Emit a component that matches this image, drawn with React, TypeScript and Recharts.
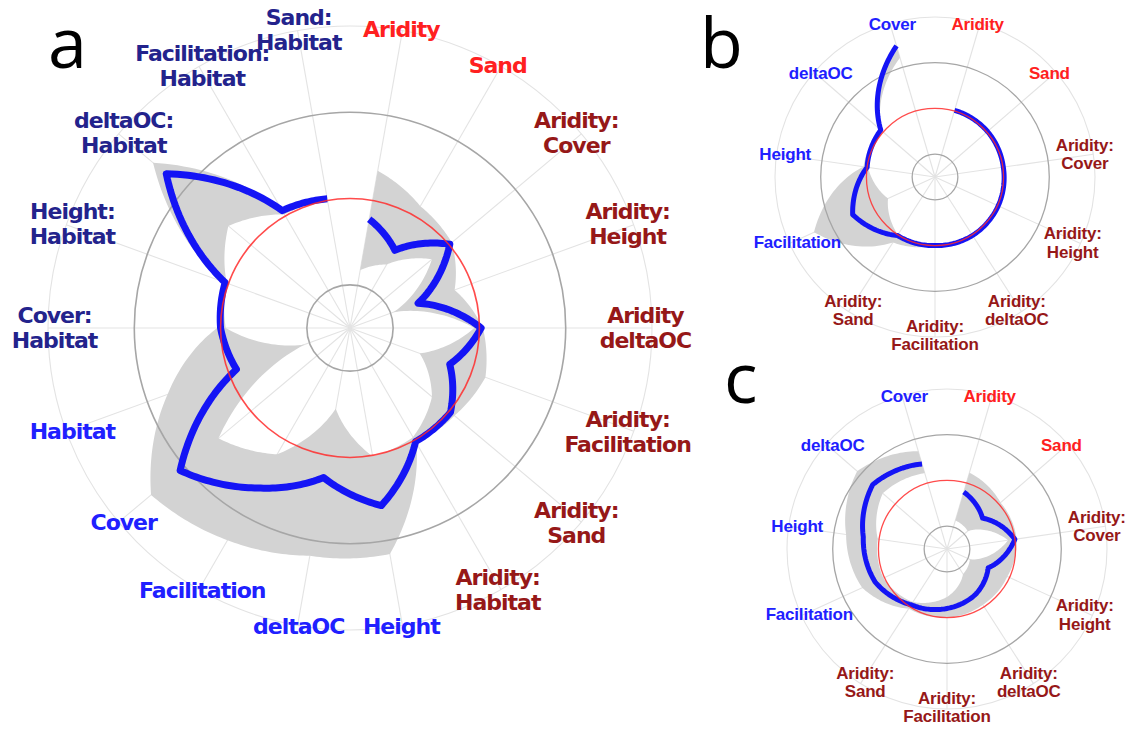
import React from "react";
import { RadarChart, Radar, PolarGrid, PolarAngleAxis, PolarRadiusAxis } from "recharts";

// radial scale shared by the three panels: 0 = red reference circle, -1 / 1 = grey rings
const DOMAIN: [number, number] = [-1.5, 1.9];
const REF_LEVEL = 0;
const GRID_LEVELS = [-1, 1];

// panel a
const aCategories = [
  "Aridity", "Sand", "Aridity:\nCover", "Aridity:\nHeight", "Aridity\ndeltaOC", "Aridity:\nFacilitation",
  "Aridity:\nSand", "Aridity:\nHabitat", "Height", "deltaOC", "Facilitation", "Cover", "Habitat",
  "Cover:\nHabitat", "Height:\nHabitat", "deltaOC:\nHabitat", "Facilitation:\nHabitat", "Sand:\nHabitat"
];
const aGroups = [
  "main", "main", "arid", "arid", "arid", "arid", "arid", "arid", "plant", "plant", "plant", "plant", "plant",
  "hab", "hab", "hab", "hab", "hab"
];
const aEstimate = [-0.22, -0.46, 0.01, -0.66, 0.02, -0.27, 0.02, 0.02, 0.59, 0.26, 0.64, 1.07, -0.1, 0.0, 0.04, 1.28, 0.07, 0.02];
const aLower = [-0.82, -0.65, -0.26, -0.96, -0.06, -0.64, -0.26, -0.04, 0.01, -0.55, 0.19, 0.49, -0.94, -0.06, 0.02, 0.34, 0.02, 0.0];
const aUpper = [0.35, 0.13, 0.04, -0.21, 0.04, 0.17, 0.08, 0.04, 1.16, 1.18, 1.34, 1.51, 0.75, 0.04, 0.06, 1.48, 0.08, 0.03];

// panels b and c share the categories
const bcCategories = [
  "Aridity", "Sand", "Aridity:\nCover", "Aridity:\nHeight", "Aridity:\ndeltaOC", "Aridity:\nFacilitation",
  "Aridity:\nSand", "Facilitation", "Height", "deltaOC", "Cover"
];
const bcGroups = ["main", "main", "arid", "arid", "arid", "arid", "arid", "plant", "plant", "plant", "plant"];

const bEstimate = [0.02, 0.02, 0.01, 0.02, 0.02, 0.0, 0.02, 0.48, 0.0, 0.07, 1.49];
const bLower = [0.02, 0.02, 0.01, 0.02, 0.02, 0.0, 0.0, -0.37, -0.02, 0.05, 1.22];
const bUpper = [0.02, 0.02, 0.01, 0.02, 0.02, 0.0, 0.2, 1.41, 0.08, 0.08, 1.52];

const cEstimate = [-0.2, -0.47, 0.0, -0.51, -0.33, -0.2, -0.05, 0.23, 0.35, 0.65, 0.44];
const cLower = [-0.85, -0.9, -0.15, -0.95, -0.85, -0.45, -0.12, 0.03, 0.03, 0.36, 0.23];
const cUpper = [0.24, 0.05, 0.04, -0.05, -0.05, 0.0, 0.05, 0.54, 0.73, 1.1, 0.73];

const groupColors: Record<string, string> = {
  main: "#ff2020",
  arid: "#961818",
  plant: "#2020ff",
  hab: "#23238c"
};

const RAD = Math.PI / 180;
const STEPS = 24;

type PolarPt = { angle: number; radius: number };

function polar(cx: number, cy: number, r: number, angle: number): [number, number] {
  return [cx + r * Math.cos(-angle * RAD), cy + r * Math.sin(-angle * RAD)];
}

// radius interpolated linearly with angle between spokes (as the original plots do)
function trace(pts: PolarPt[], cx: number, cy: number): [number, number][] {
  const out: [number, number][] = [];
  for (let i = 0; i < pts.length - 1; i++) {
    const a = pts[i];
    const b = pts[i + 1];
    for (let k = 0; k < STEPS; k++) {
      const t = k / STEPS;
      out.push(polar(cx, cy, a.radius + (b.radius - a.radius) * t, a.angle + (b.angle - a.angle) * t));
    }
  }
  const last = pts[pts.length - 1];
  out.push(polar(cx, cy, last.radius, last.angle));
  return out;
}

const toD = (xy: [number, number][]) => xy.map(([x, y], i) => `${i ? "L" : "M"}${x.toFixed(2)},${y.toFixed(2)}`).join("");

type Panel = {
  categories: string[];
  groups: string[];
  estimate: number[];
  lower: number[];
  upper: number[];
  left: number;
  top: number;
  width: number;
  height: number;
  cx: number;
  cy: number;
  outer: number;
  lineWidth: number;
  ringWidth: number;
  labelX: number;
  labelY: number;
  font: { family: string; size: number; spacing: number; lineGap: number };
};

function RadarPanel({ p }: { p: Panel }) {
  const n = p.categories.length;
  const start = 90 - 180 / n;
  const rows = p.categories.map((name, i) => ({
    name,
    est: p.estimate[i],
    band: [p.lower[i], p.upper[i]]
  }));
  const colorOf: Record<string, string> = {};
  p.categories.forEach((c, i) => (colorOf[c] = groupColors[p.groups[i]]));
  const scaleR = (v: number) => ((v - DOMAIN[0]) / (DOMAIN[1] - DOMAIN[0])) * p.outer;

  const bandShape = (props: any) => {
    const pts = props.points as any[];
    if (!pts || !pts.length) return <g />;
    const { cx, cy } = pts[0];
    const base: any[] = props.baseLinePoints && props.baseLinePoints.length ? props.baseLinePoints : null;
    const up = pts.map((q) => ({ angle: q.angle, radius: q.radius }));
    const lo = pts.map((q, i) => ({
      angle: q.angle,
      radius: base ? Math.hypot(base[i].x - cx, base[i].y - cy) : scaleR(q.value[0])
    }));
    const d = toD(trace(up, cx, cy)) + toD(trace(lo.slice().reverse(), cx, cy)).replace(/^M/, "L") + "Z";
    return <path d={d} fill="#d3d3d3" stroke="none" />;
  };

  const lineShape = (props: any) => {
    const pts = props.points as any[];
    if (!pts || !pts.length) return <g />;
    const { cx, cy } = pts[0];
    return (
      <path
        d={toD(trace(pts.map((q) => ({ angle: q.angle, radius: q.radius })), cx, cy))}
        fill="none"
        stroke="#1414f5"
        strokeWidth={p.lineWidth}
        strokeLinejoin="round"
        strokeLinecap="butt"
      />
    );
  };

  const ringShape = (stroke: string, width: number, opacity = 1) => (props: any) => {
    const q = props.points && props.points[0];
    if (!q) return <g />;
    return <circle cx={q.cx} cy={q.cy} r={q.radius} fill="none" stroke={stroke} strokeWidth={width} strokeOpacity={opacity} />;
  };

  const tick = (props: any) => {
    const { payload } = props;
    // labels sit on a slightly flattened ring, like the original
    const x = p.cx + (props.x - p.cx) * p.labelX;
    const y = p.cy + (props.y - p.cy) * p.labelY;
    const label = String(payload.value);
    const lines = label.split("\n");
    const off = -((lines.length - 1) * p.font.lineGap) / 2;
    return (
      <text
        x={x}
        y={y}
        textAnchor="middle"
        fill={colorOf[label] || "#000"}
        fontFamily={p.font.family}
        fontWeight="bold"
        fontSize={p.font.size}
        letterSpacing={p.font.spacing}
      >
        {lines.map((ln, i) => (
          <tspan key={i} x={x} y={y + off + i * p.font.lineGap} dominantBaseline="central">
            {ln}
          </tspan>
        ))}
      </text>
    );
  };

  return (
    <div style={{ position: "absolute", left: p.left, top: p.top }}>
      <RadarChart
        width={p.width}
        height={p.height}
        data={rows}
        cx={p.cx}
        cy={p.cy}
        outerRadius={p.outer}
        innerRadius={0}
        startAngle={start}
        endAngle={start - 360}
        margin={{ top: 0, right: 0, bottom: 0, left: 0 }}
      >
        <PolarGrid gridType="circle" polarRadius={[p.outer]} stroke="#e3e3e3" strokeWidth={1.1} />
        <PolarRadiusAxis type="number" domain={DOMAIN} allowDataOverflow tick={false} axisLine={false} />
        <PolarAngleAxis dataKey="name" tick={tick} tickLine={false} axisLine={false} tickSize={1} />
        <Radar dataKey="band" shape={bandShape} isAnimationActive={false} />
        {GRID_LEVELS.map((lv) => (
          <Radar key={lv} dataKey={() => lv} shape={ringShape("#a6a6a6", p.ringWidth)} isAnimationActive={false} />
        ))}
        <Radar dataKey="est" shape={lineShape} isAnimationActive={false} />
        <Radar dataKey={() => REF_LEVEL} shape={ringShape("#ff2b2b", p.ringWidth, 0.85)} isAnimationActive={false} />
      </RadarChart>
    </div>
  );
}

const panelA: Panel = {
  categories: aCategories, groups: aGroups, estimate: aEstimate, lower: aLower, upper: aUpper,
  left: 0, top: 0, width: 700, height: 730, cx: 350, cy: 328, outer: 302, lineWidth: 7, ringWidth: 1.6,
  labelX: 0.975, labelY: 1.0,
  font: { family: "'DejaVu Sans', Verdana, sans-serif", size: 22, spacing: -1, lineGap: 25 }
};
const panelB: Panel = {
  categories: bcCategories, groups: bcGroups, estimate: bEstimate, lower: bLower, upper: bUpper,
  left: 700, top: 0, width: 429, height: 370, cx: 235, cy: 177, outer: 160, lineWidth: 5, ringWidth: 1.3,
  labelX: 0.94, labelY: 0.985,
  font: { family: "'Liberation Sans', Arial, sans-serif", size: 17, spacing: -0.2, lineGap: 18.5 }
};
const panelC: Panel = {
  categories: bcCategories, groups: bcGroups, estimate: cEstimate, lower: cLower, upper: cUpper,
  left: 700, top: 370, width: 429, height: 360, cx: 247, cy: 179, outer: 160, lineWidth: 5, ringWidth: 1.3,
  labelX: 0.94, labelY: 0.985,
  font: { family: "'Liberation Sans', Arial, sans-serif", size: 17, spacing: -0.2, lineGap: 18.5 }
};

const letterStyle = (left: number, top: number): React.CSSProperties => ({
  position: "absolute",
  left,
  top,
  fontFamily: "'Open Sans', sans-serif",
  fontSize: 70,
  lineHeight: "70px",
  color: "#000",
  pointerEvents: "none"
});

export default function App() {
  return (
    <div style={{ position: "absolute", left: 0, top: 0, width: 1129, height: 730, background: "#fff", overflow: "hidden" }}>
      <RadarPanel p={panelA} />
      <RadarPanel p={panelB} />
      <RadarPanel p={panelC} />
      <div style={letterStyle(48, 6)}>a</div>
      <div style={letterStyle(700, 6)}>b</div>
      <div style={letterStyle(724, 341)}>c</div>
    </div>
  );
}
